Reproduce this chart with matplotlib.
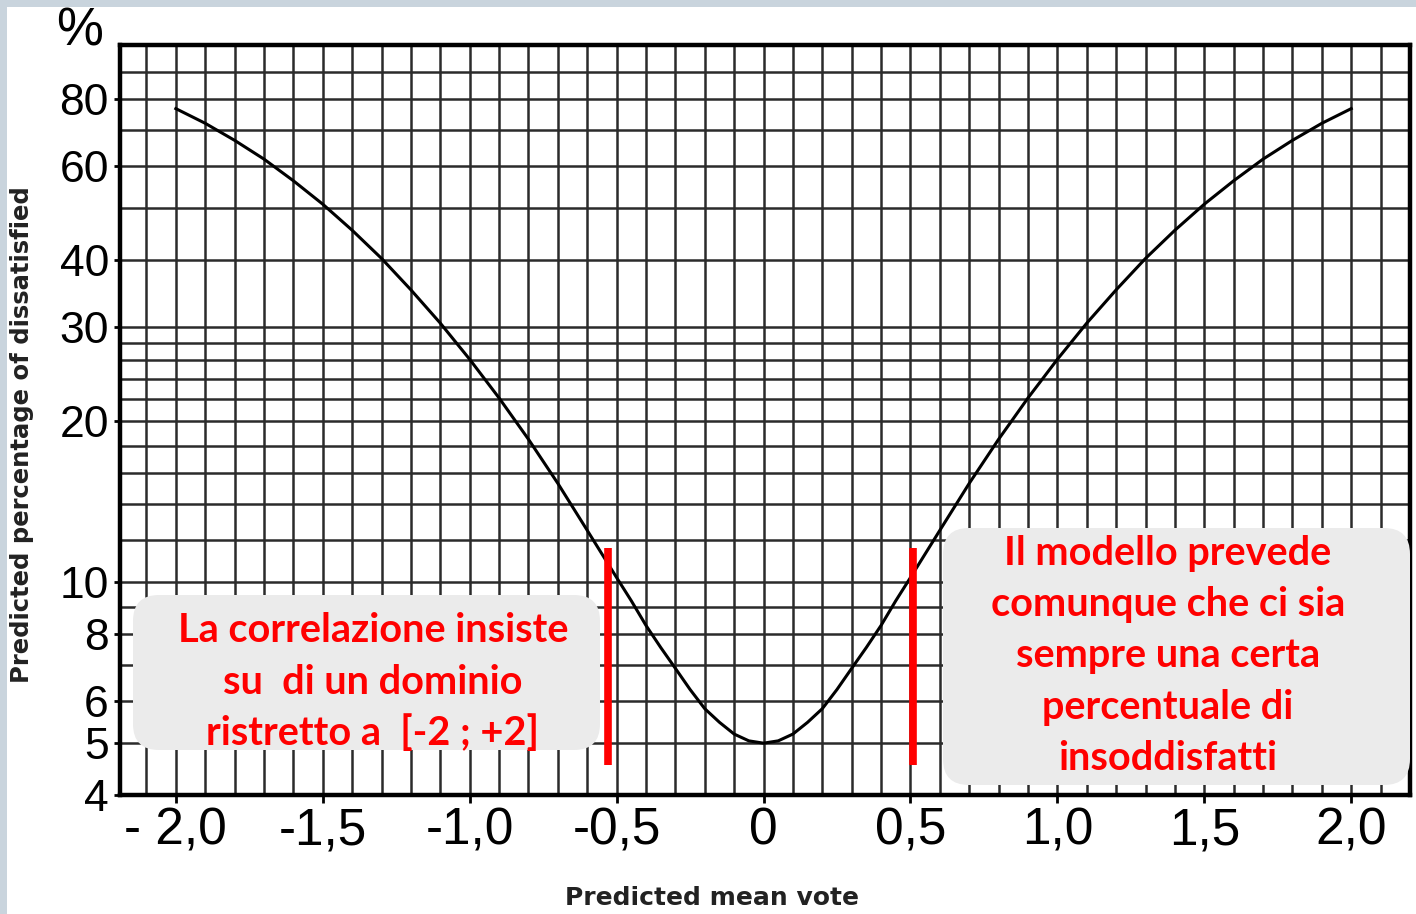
import numpy as np
import matplotlib
matplotlib.use('Agg')
import matplotlib.pyplot as plt
from matplotlib.patches import FancyBboxPatch, Rectangle
from matplotlib.transforms import IdentityTransform
from matplotlib.ticker import NullFormatter

# ---- data ----
pmv = [-2.0, -1.9, -1.8, -1.7, -1.6, -1.5, -1.4, -1.3, -1.2, -1.1, -1.0,
       -0.9, -0.8, -0.7, -0.6, -0.5, -0.45, -0.4, -0.35, -0.3, -0.25, -0.2,
       -0.15, -0.1, -0.05, 0.0,
       0.05, 0.1, 0.15, 0.2, 0.25, 0.3, 0.35, 0.4, 0.45, 0.5,
       0.6, 0.7, 0.8, 0.9, 1.0,
       1.1, 1.2, 1.3, 1.4, 1.5, 1.6, 1.7, 1.8, 1.9, 2.0]
ppd = [76.8, 72.1, 67.0, 61.8, 56.3, 50.9, 45.5, 40.3, 35.2, 30.5, 26.1,
       22.1, 18.5, 15.3, 12.5, 10.2, 9.23, 8.3, 7.55, 6.9, 6.3, 5.8,
       5.47, 5.2, 5.05, 5.0,
       5.05, 5.2, 5.47, 5.8, 6.3, 6.9, 7.55, 8.3, 9.23, 10.2,
       12.5, 15.3, 18.5, 22.1, 26.1,
       30.5, 35.2, 40.3, 45.5, 50.9, 56.3, 61.8, 67.0, 72.1, 76.8]

x_ticks = [-2.0, -1.5, -1.0, -0.5, 0.0, 0.5, 1.0, 1.5, 2.0]
x_labels = ['- 2,0', '-1,5', '-1,0', '-0,5', '0', '0,5', '1,0', '1,5', '2,0']
y_ticks = [4, 5, 6, 8, 10, 20, 30, 40, 60, 80]
y_labels = ['4', '5', '6', '8', '10', '20', '30', '40', '60', '80']
y_grid = [5, 6, 7, 8, 9, 10, 12, 14, 16, 18, 20, 22, 24, 26, 28, 30, 40, 50, 60, 70, 80, 90]

red_x = [-0.53, 0.51]
red_y = [4.55, 11.6]

left_lines = ["La correlazione insiste", "su  di un dominio", "ristretto a  [-2 ; +2]"]
right_lines = ["Il modello prevede", "comunque che ci sia", "sempre una certa",
               "percentuale di", "insoddisfatti"]

# ---- figure ----
W, H = 1416, 914
fig = plt.figure(figsize=(W / 100, H / 100), dpi=100, facecolor='white')
border = '#c9d4dd'
fig.add_artist(Rectangle((0, 1 - 7 / H), 1, 7 / H, transform=fig.transFigure,
                         facecolor=border, edgecolor='none', zorder=-5))
fig.add_artist(Rectangle((0, 0), 7 / W, 1, transform=fig.transFigure,
                         facecolor=border, edgecolor='none', zorder=-5))

ax = fig.add_axes([120 / W, 1 - 795 / H, (1410 - 120) / W, (795 - 45) / H])
ax.set_yscale('log')
ax.set_xlim(-2.19, 2.2)
ax.set_ylim(4, 101)

tick_font = ['Liberation Sans', 'DejaVu Sans']
ax.set_xticks(x_ticks)
ax.set_xticklabels(x_labels, family=tick_font, fontsize=37)
ax.set_xticks(np.arange(-21, 22) / 10, minor=True)
ax.set_yticks(y_ticks)
ax.set_yticklabels(y_labels, family=tick_font, fontsize=32)
ax.set_yticks(y_grid, minor=True)
ax.yaxis.set_minor_formatter(NullFormatter())

ax.tick_params(axis='x', which='major', length=6, width=2, pad=2, direction='out')
ax.tick_params(axis='y', which='major', length=4, width=2, pad=4, direction='out')
ax.tick_params(which='minor', length=0)

ax.set_axisbelow(True)
ax.grid(which='both', axis='both', color='#2b2b2b', lw=1.8)

for s in ax.spines.values():
    s.set_linewidth(3.2)
    s.set_color('black')

ax.plot(pmv, ppd, color='black', lw=2.2, zorder=3)
ax.vlines(red_x, red_y[0], red_y[1], color='#ff0000', lw=5.5, zorder=6)

# annotation boxes (pixel coordinates)
def box(x0, y0, x1, y1):
    p = FancyBboxPatch((x0, H - y1), x1 - x0, y1 - y0,
                       boxstyle='round,pad=0,rounding_size=26',
                       transform=IdentityTransform(), facecolor='#ebebeb',
                       edgecolor='none', zorder=5, clip_on=False)
    ax.add_artist(p)

box(133, 595, 600, 750)
box(943, 528, 1410, 785)

def lines(xc, y_first, step, texts):
    for i, t in enumerate(texts):
        ax.text(xc, H - (y_first + i * step), t, transform=IdentityTransform(),
                ha='center', va='center', color='#ff0000', fontsize=28.5,
                fontweight='bold', family=['Lato', 'DejaVu Sans'], zorder=7)

lines(373, 631, 51, left_lines)
lines(1168, 553, 51.5, right_lines)

# axis titles
fig.text(80 / W, 1 - 32 / H, '%', ha='center', va='center', fontsize=38,
         family=tick_font)
fig.text(22 / W, 1 - 435 / H, 'Predicted percentage of dissatisfied', rotation=90,
         ha='center', va='center', fontsize=17.5, fontweight='bold', color='#222222')
fig.text(712 / W, 1 - 898 / H, 'Predicted mean vote', ha='center', va='center',
         fontsize=18, fontweight='bold', color='#222222')

fig.savefig('out.png', dpi=100, facecolor=fig.get_facecolor())
